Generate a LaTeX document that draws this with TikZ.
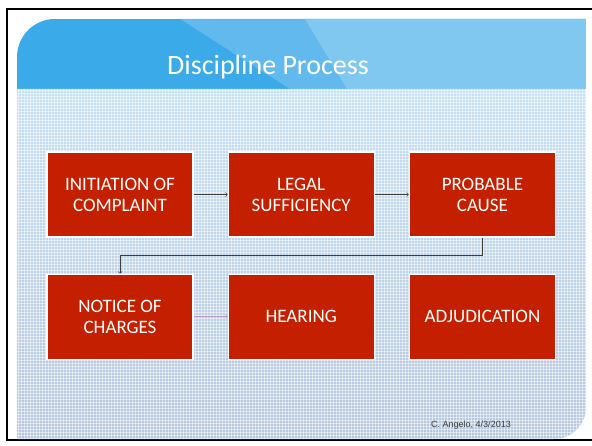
\documentclass[tikz,border=0pt]{standalone}
\usepackage{fontspec}
\setmainfont{Carlito}
\newfontfamily\footfont{Liberation Sans}
\usetikzlibrary{positioning}

\definecolor{hdrA}{RGB}{58,170,232}
\definecolor{hdrB}{RGB}{98,185,237}
\definecolor{hdrC}{RGB}{128,200,240}
\definecolor{paperTop}{RGB}{198,224,244}
\definecolor{paperBot}{RGB}{182,199,222}
\definecolor{stepred}{RGB}{196,32,0}
\definecolor{linkgray}{RGB}{60,60,60}
\definecolor{linkpink}{RGB}{190,150,208}

\begin{document}
\begin{tikzpicture}[x=1pt, y=-1pt,
  stepbox/.style={rectangle, fill=stepred, draw=white, line width=1.2pt,
    minimum width=146pt, minimum height=85pt, inner sep=0pt,
    text=white, align=center, font=\fontsize{19}{21}\selectfont},
  link/.style={->, linkgray, line width=0.6pt}]
  \useasboundingbox (0,0) rectangle (592,446);

  % slide frame
  \draw[line width=2.5pt] (600,9) -- (7,9) -- (7,440) -- (600,440);

  % title bar with the two lighter bands
  \begin{scope}
    \clip (17,89) [rounded corners=38pt] -- (17,19) [sharp corners] -- (586,19) -- (586,89) -- cycle;
    \fill[hdrA] (17,19) rectangle (586,89);
    \fill[hdrB] (180,19) -- (586,19) -- (586,89) -- (290,89) -- cycle;
    \fill[hdrC] (305,19) -- (586,19) -- (586,89) -- (347,89) -- cycle;
  \end{scope}
  \node[anchor=base, text=white, font=\fontsize{28}{30}\selectfont] (title) at (268,75) {Discipline Process};

  % textured body
  \begin{scope}
    \clip (17,89) -- (586,89) [rounded corners=32pt] -- (586,439) [sharp corners] -- (17,439) -- cycle;
    \shade[top color=paperTop, bottom color=paperBot] (17,89) rectangle (586,439);
    \foreach \x in {18,21,...,586}
      \draw[white, opacity=0.5, line width=0.6pt] (\x,89) -- (\x,439);
    \foreach \y in {90,93,...,439}
      \draw[white, opacity=0.5, line width=0.6pt] (17,\y) -- (586,\y);
  \end{scope}

  % process steps
  \node[stepbox] (init) at (120,194.5) {INITIATION OF\\COMPLAINT};
  \node[stepbox, right=34pt of init] (legal) {LEGAL\\SUFFICIENCY};
  \node[stepbox, right=34pt of legal] (cause) {PROBABLE\\CAUSE};
  \node[stepbox, below=36pt of init] (notice) {NOTICE OF\\CHARGES};
  \node[stepbox, right=34pt of notice] (hearing) {HEARING};
  \node[stepbox, right=34pt of hearing] (adjud) {ADJUDICATION};

  \draw[link] (init) -- (legal);
  \draw[link] (legal) -- (cause);
  \draw[link] (cause.south) -- ++(0,18) -| (notice.north);
  \draw[link, linkpink] (notice) -- (hearing);

  \node[anchor=base, text=linkgray, font=\footfont\fontsize{9}{11}\selectfont] (credit) at (471,428) {C. Angelo, 4/3/2013};
\end{tikzpicture}
\end{document}
